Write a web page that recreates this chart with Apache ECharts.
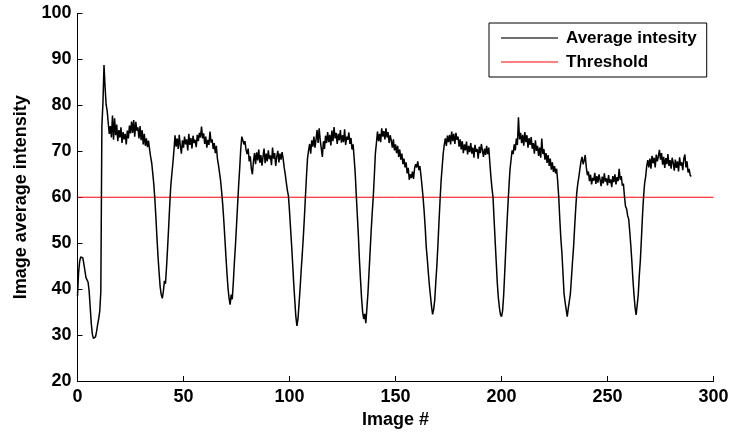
<!DOCTYPE html>
<html>
<head>
<meta charset="utf-8">
<script src="https://cdn.jsdelivr.net/npm/echarts@6/dist/echarts.min.js"></script>
<style>html,body{margin:0;padding:0;background:#fff}#c{width:733px;height:435px}</style>
</head>
<body>
<div id="c"></div>
<script>
// Data
const seriesNames = ['Average intesity', 'Threshold'];
const xTicks = [0, 50, 100, 150, 200, 250, 300];
const yTicks = [20, 30, 40, 50, 60, 70, 80, 90, 100];
const thresholdValue = 60;
const imageStart = 0;
const imageStep = 0.5;
const intensity = [
38.5,43.5,46,47,47.2,46.8,45.5,44,42.5,42,
41.5,39.5,36,32.5,30.2,29.3,29,29.6,30.8,32.3,
33.6,35.2,39.5,75.5,80.5,88.8,84,80.2,78.8,76.2,
73.8,75.5,73,77.8,72.5,77.2,73.5,75.8,72.2,74.6,
73,75.2,71.8,74.2,72.6,73.8,71.5,74.5,72.8,75.6,
73.9,76.5,74,76.8,73.2,76.4,74.5,75.2,72.8,75.5,
72.4,74.6,71.5,73.8,71.2,72.8,70.9,72.3,70.4,68.8,
67.5,65.2,62.8,59.5,55.5,51,47,43.5,40.5,38.8,
38,39.5,41.8,41.2,44.8,49,53.5,58.2,62.5,65,
67.5,70.2,73.5,71,72.8,70.5,73.6,71.2,69.5,72.4,
70.8,73.2,71.5,72.6,70.2,73.8,71.4,72.9,70.6,73.4,
71.8,72.5,70.9,73.6,72.2,74,73,75.4,72.8,73.9,
71.6,73.2,70.8,72.5,71.4,74.3,71.9,72.6,70.5,71.8,
69.6,71.2,68.4,67,65.3,63.6,61.2,58.4,55,51.2,
47.2,43.5,40.2,38,36.6,38.8,37.8,41.5,45.8,49.5,
53.8,58.2,62.5,66.2,70.5,73.2,72.4,71.5,72.2,70.3,
69.4,70.6,67.8,68.9,66.2,65,67.8,69.6,67.2,69.8,
68,70.4,67.5,69.2,66.9,68.8,70.6,67.4,69.5,67.8,
70.2,68.3,69.1,67,70.8,68.4,69.6,66.8,68.9,70.1,
67.6,69.5,68.2,69.8,68.4,66.5,65,63.2,61.5,60.3,
57,53.2,49.5,45.4,41.2,37.5,34,32,33.5,36.8,
40.2,44,47.5,51.2,55.4,60,64.5,68.5,70.2,71.6,
69.5,72.4,71,73.2,70.8,72.5,74.6,71.8,75,72.4,
70.6,68.8,72.2,70.5,73.4,71.8,74.2,72,73.6,71.3,
74.5,72.2,75.3,72.8,74,71.6,73.8,72.4,74.6,71.9,
73.5,72,74.8,71.4,73.2,72.5,74.1,71.6,72.9,70.4,
71.5,68.5,65.2,60.5,56,51.5,46.3,42,38,35,
33.5,34.6,32.6,35.8,39.1,43.5,48,52.5,56.5,60,
64.5,69.5,71.8,74.3,72.2,73.8,72,75,73.2,74.4,
72.6,75,73,74.2,71.8,73.5,72.4,70.8,72.6,70.2,
71.5,69.6,71.2,68.8,70.4,68.2,69.5,67.2,68.4,66.5,
67.6,65.2,66.4,63.8,65,64.2,65.6,64,66.3,67.2,
66.5,67.8,65.9,66.8,64.8,62.5,60,57,53.5,49.2,
46.5,43.5,40.8,38.5,36.2,34.5,35.6,37.6,41.5,45,
49.5,54.5,59.2,63.5,66.5,69.5,71.4,72.8,71.2,73.4,
72,73.6,71.5,74.3,72.2,73.8,71.6,74,72.5,73.2,
71,72.6,70.4,72.2,69.6,71.5,70.2,72.1,69.3,71.2,
69.8,71.8,69.5,70.8,68.6,71.4,69.9,70.5,68.4,71,
69.6,71.6,70.2,68.8,70.6,69.2,71.2,69.4,70.8,67.5,
64.5,62,60,55.2,50.5,46,41.5,38.2,36,34.5,
34,35.2,38.5,43.4,48.5,53.5,58,62.2,66,68.1,
70.2,69.4,71.5,70.2,72.8,71.4,77.4,72.6,74,71.8,
73.6,71.2,74.2,72,73.5,70.8,72.9,71.4,73.1,70.6,
71.8,69.5,72.4,70.1,71.2,69,70.8,68.6,72.8,69.4,
70.5,68.2,69.6,67.5,69.2,66.8,68.4,66,67.6,65.5,
66.8,65.2,66.2,63.5,60,55.2,51,47.8,43.5,39,
37.2,35.6,34,35.8,37.4,39,42.5,46,49.2,53.5,
57.5,61,63,64.5,66.2,67.8,68.8,67.2,68,69.2,
66.5,64.8,65.6,63.5,64.9,62.8,64.2,63.6,65.3,62.9,
64.6,63.2,65,63.8,62.4,64.5,63,65.2,63.4,64.1,
62.6,64.8,63.1,63.9,62.2,64.6,63.3,65,62.8,64.4,
63.5,66.2,63.8,64.6,62.5,63,60.2,58,57.5,56,
55.2,52.5,49.5,46,42,38.8,36,34.4,36.5,38.8,
43,46.3,51,56,60,63,64.5,66.8,68.1,66.5,
68.4,66.2,69,67.4,68.6,66.5,69.3,67.8,68.9,70.3,
68.2,69.6,67.1,68.8,66.4,68.5,67.2,69.4,66.8,68.1,
66.2,68.6,67.5,65.8,68.2,66.4,67.8,65.6,68.7,66.9,
67.6,65.9,68.4,69.3,66.5,67.8,65.4,66.2,64.8,64.5
];

const font = "'Liberation Sans', Arial, Helvetica, sans-serif";
const xMin = xTicks[0], xMax = xTicks[xTicks.length - 1];
const yMin = yTicks[0], yMax = yTicks[yTicks.length - 1];
const lineData = intensity.map((v, i) => [imageStart + i * imageStep, v]);
const thresholdData = [[xMin, thresholdValue], [xMax, thresholdValue]];

const chart = echarts.init(document.getElementById('c'), null, {renderer: 'canvas'});
chart.setOption({
  animation: false,
  backgroundColor: '#ffffff',
  grid: {left: 77.5, right: 19.5, top: 13.5, bottom: 54, containLabel: false},
  legend: {
    left: 489, top: 23, orient: 'vertical',
    backgroundColor: '#ffffff', borderColor: '#000000', borderWidth: 1,
    padding: [6, 10, 6, 12], itemWidth: 57, itemHeight: 2, itemGap: 6,
    icon: 'rect',
    textStyle: {fontFamily: font, fontSize: 17, fontWeight: 'bold', color: '#000', padding: [0, 0, 0, 3], lineHeight: 18, height: 18},
    data: [
      {name: seriesNames[0], itemStyle: {color: '#707070'}},
      {name: seriesNames[1], itemStyle: {color: '#ff8080'}}
    ]
  },
  xAxis: {
    type: 'value', min: xMin, max: xMax, interval: 50,
    name: 'Image #', nameLocation: 'middle', nameGap: 30,
    nameTextStyle: {fontFamily: font, fontSize: 18, fontWeight: 'bold', color: '#000'},
    axisLine: {show: true, lineStyle: {color: '#000', width: 1}},
    axisTick: {show: true, inside: true, length: 5, lineStyle: {color: '#000'}},
    axisLabel: {fontFamily: font, fontSize: 18, fontWeight: 'bold', color: '#000', margin: 7},
    splitLine: {show: false}
  },
  yAxis: {
    type: 'value', min: yMin, max: yMax, interval: 10,
    name: 'Image average intensity', nameLocation: 'middle', nameGap: 47,
    nameTextStyle: {fontFamily: font, fontSize: 18, fontWeight: 'bold', color: '#000'},
    axisLine: {show: true, lineStyle: {color: '#000', width: 1}},
    axisTick: {show: true, inside: true, length: 5, lineStyle: {color: '#000'}},
    axisLabel: {fontFamily: font, fontSize: 18, fontWeight: 'bold', color: '#000', margin: 6},
    splitLine: {show: false}
  },
  series: [
    {
      name: seriesNames[0], type: 'line', data: lineData, symbol: 'none', showSymbol: false,
      lineStyle: {color: '#000000', width: 1.5}, itemStyle: {color: '#000000'}, z: 3
    },
    {
      name: seriesNames[1], type: 'line', data: thresholdData, symbol: 'none', showSymbol: false,
      lineStyle: {color: '#ff0000', width: 1}, itemStyle: {color: '#ff0000'}, z: 2
    }
  ]
});
</script>
</body>
</html>
